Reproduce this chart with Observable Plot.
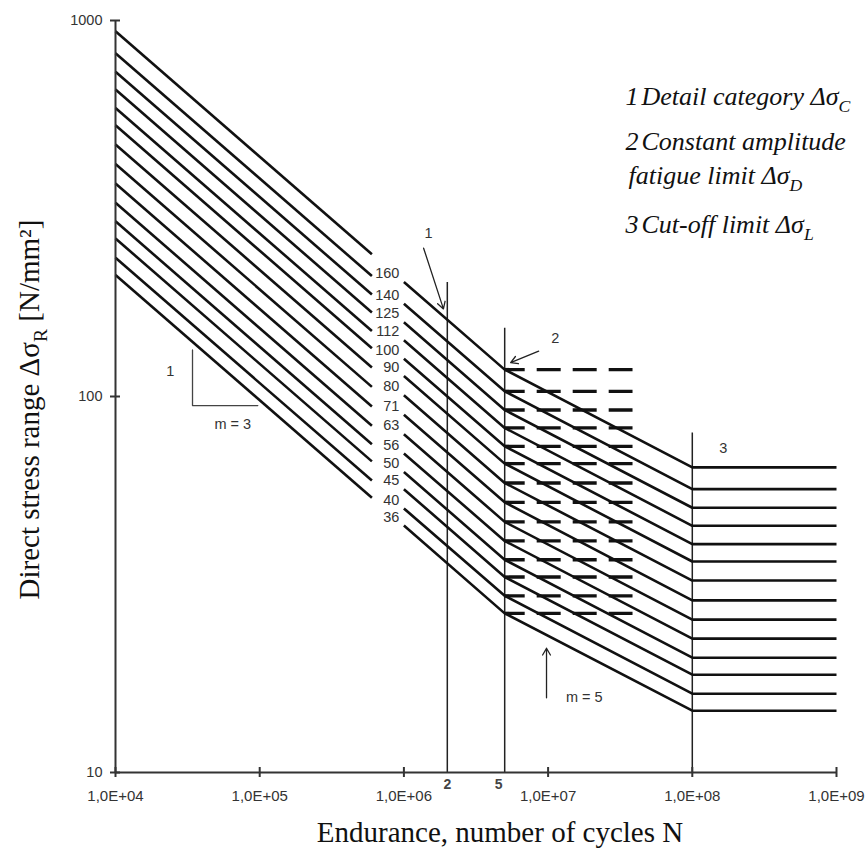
<!DOCTYPE html>
<html>
<head>
<meta charset="utf-8">
<script src="https://cdn.jsdelivr.net/npm/d3@7"></script>
<script src="https://cdn.jsdelivr.net/npm/@observablehq/plot@0.6"></script>
<style>
  html, body { margin: 0; padding: 0; background: #fff; }
  #chart svg { display: block; }
</style>
</head>
<body>
<div id="chart"></div>
<script>
// Detail categories Δσc [N/mm²], reference stress range at N = 2·10^6
const categories = [160, 140, 125, 112, 100, 90, 80, 71, 63, 56, 50, 45, 40, 36];
// Constant amplitude fatigue limit ΔσD at N = 5·10^6
const fatigueLimits = [117.9, 103.2, 92.1, 82.5, 73.7, 66.3, 58.9, 52.3, 46.4, 41.3, 36.8, 33.1, 29.5, 26.5];
// Cut-off limit ΔσL at N = 10^8
const cutOffLimits = [64.8, 56.7, 50.6, 45.3, 40.5, 36.4, 32.4, 28.7, 25.5, 22.7, 20.2, 18.2, 16.2, 14.6];

// Characteristic endurances
const N_C = 2e6, N_D = 5e6, N_L = 1e8;
const N_START = 1e4, N_END = 1e9;
// m = 3 branch is interrupted between these endurances to leave room for the category labels
const GAP_FROM = 6e5, GAP_TO = 1e6;
// Dashed continuation of ΔσD
const DASH_TO = 3.85e7;

const xTicks = [1e4, 1e5, 1e6, 1e7, 1e8, 1e9];
const yTicks = [10, 100, 1000];

// Key in the upper right corner
const legendLines = [
  {num: "1", text: "Detail category Δσ_C"},
  {num: "2", text: "Constant amplitude"},
  {num: "",  text: "fatigue limit Δσ_D"},
  {num: "3", text: "Cut-off limit Δσ_L"}
];
const legendBaselines = [84, 129, 163, 212];

// Stress range on the m = 3 branch through (N_C, Δσc)
const slope3 = (c, N) => c * Math.cbrt(N_C / N);

// Polylines of every S-N curve
const curveRows = [];
const dashRows = [];
categories.forEach((c, i) => {
  const D = fatigueLimits[i], L = cutOffLimits[i];
  curveRows.push(
    {cat: c, part: "a", N: N_START, S: slope3(c, N_START)},
    {cat: c, part: "a", N: GAP_FROM, S: slope3(c, GAP_FROM)},
    {cat: c, part: "b", N: GAP_TO, S: slope3(c, GAP_TO)},
    {cat: c, part: "b", N: N_D, S: D},
    {cat: c, part: "b", N: N_L, S: L},
    {cat: c, part: "b", N: N_END, S: L}
  );
  dashRows.push({cat: c, N: N_D, S: D}, {cat: c, N: DASH_TO, S: D});
});

// Vertical reference lines at the characteristic endurances
const refLines = [
  {N: N_C, top: 201},
  {N: N_D, top: 152},
  {N: N_L, top: 80}
];

// Annotation callouts
const arrows = [
  {x1: 1.37e6, y1: 248, x2: 1.88e6, y2: 171},
  {x1: 8.6e6, y1: 132, x2: 5.5e6, y2: 123},
  {x1: 9.75e6, y1: 15.8, x2: 9.75e6, y2: 21.4}
];
const callouts = [
  {N: 1.48e6, S: 272, label: "1"},
  {N: 1.12e7, S: 143, label: "2"},
  {N: 1.64e8, S: 73, label: "3"},
  {N: 2.4e4, S: 117, label: "1"},
  {N: 6.5e4, S: 84.5, label: "m = 3"},
  {N: 1.78e7, S: 15.8, label: "m = 5"}
];
const slopeTriangle = [
  {N: 3.42e4, S: 133},
  {N: 3.42e4, S: 94.6},
  {N: 9.7e4, S: 94.6}
];

const sans = "'Liberation Sans', Arial, sans-serif";
const serif = "'Liberation Serif', 'Times New Roman', serif";
const ink = "#111";
const grey = "#333";

const legendMarks = legendLines.flatMap((d, i) => [
  Plot.text([d.num], {
    frameAnchor: "top-left", dx: 510, dy: legendBaselines[i],
    lineAnchor: "bottom", textAnchor: "start",
    fontFamily: serif, fontStyle: "italic", fontSize: 26, fill: "#111"
  }),
  Plot.text([d.text], {
    frameAnchor: "top-left", dx: d.num ? 526 : 513, dy: legendBaselines[i],
    lineAnchor: "bottom", textAnchor: "start",
    fontFamily: serif, fontStyle: "italic", fontSize: 26, fill: "#111"
  })
]);

const chart = Plot.plot({
  width: 867,
  height: 849,
  marginLeft: 115,
  marginRight: 31,
  marginTop: 20,
  marginBottom: 77,
  style: {fontFamily: sans, background: "#fff", color: grey},
  x: {type: "log", domain: [N_START, N_END]},
  y: {type: "log", domain: [10, 1000]},
  marks: [
    // characteristic endurance verticals
    Plot.ruleX(refLines, {x: "N", y1: 10, y2: "top", stroke: "#222", strokeWidth: 1.5}),
    // dashed ΔσD continuation
    Plot.line(dashRows, {
      x: "N", y: "S", z: "cat", stroke: ink, strokeWidth: 3.4,
      strokeDasharray: "24,12", strokeDashoffset: 4, strokeLinecap: "butt"
    }),
    // S-N curves
    Plot.line(curveRows, {
      x: "N", y: "S", z: d => d.cat + d.part, stroke: ink, strokeWidth: 2.6,
      strokeLinecap: "butt", strokeLinejoin: "miter"
    }),
    // category labels in the gap of the m = 3 branch
    Plot.text(categories, {
      x: 9.3e5, y: c => slope3(c, 7.8e5), text: c => String(c),
      textAnchor: "end", dy: 5, fontSize: 14.5, fill: grey
    }),
    // axes
    Plot.ruleX([N_START], {stroke: "#333", strokeWidth: 2}),
    Plot.ruleY([10], {stroke: "#333", strokeWidth: 2}),
    Plot.axisX(xTicks, {
      tickSize: 10, dy: -5, tickPadding: 13, fontSize: 15, strokeWidth: 2,
      tickFormat: d => "1,0E+0" + Math.round(Math.log10(d)), label: null
    }),
    Plot.axisY(yTicks, {
      tickSize: 10, dx: 5, tickPadding: 8, fontSize: 14.5, strokeWidth: 2,
      tickFormat: d3.format("d"), label: null
    }),
    // endurance marks 2·10^6 and 5·10^6 under the axis
    Plot.text([N_C], {x: d => d, y: 10, text: () => "2", dy: 12, fontSize: 14, fontWeight: "bold", fill: "#444"}),
    Plot.text([N_D], {x: d => d, y: 10, text: () => "5", dy: 12, dx: -6, fontSize: 14, fontWeight: "bold", fill: "#444"}),
    // slope triangle and callouts
    Plot.line(slopeTriangle, {x: "N", y: "S", stroke: "#444", strokeWidth: 1.3}),
    Plot.arrow(arrows, {
      x1: "x1", y1: "y1", x2: "x2", y2: "y2", stroke: "#222",
      strokeWidth: 1.3, headLength: 9
    }),
    Plot.text(callouts, {x: "N", y: "S", text: "label", fontSize: 14.5, fill: grey}),
    // key
    ...legendMarks,
    // axis titles
    Plot.text(["Endurance, number of cycles N"], {
      frameAnchor: "bottom", dx: 24, dy: 69, lineAnchor: "bottom", textAnchor: "middle",
      fontFamily: serif, fontSize: 29, fill: "#111"
    }),
    Plot.text(["Direct stress range Δσ_R [N/mm²]"], {
      frameAnchor: "left", dx: -86, dy: 13, rotate: -90, lineAnchor: "middle", textAnchor: "middle",
      fontFamily: serif, fontSize: 29, fill: "#111"
    })
  ]
});

document.getElementById("chart").appendChild(chart);

// Turn "_X" into a lowered, smaller subscript character
d3.select(chart).selectAll("text").each(function () {
  const s = this.textContent;
  if (!s.includes("_")) return;
  const size = parseFloat(getComputedStyle(this).fontSize) || 16;
  const shift = size * 0.28;
  const parts = s.split(/_(\S)/);
  const el = d3.select(this);
  el.text(null);
  let lowered = false;
  parts.forEach((p, k) => {
    if (k % 2 === 1) {
      el.append("tspan").attr("dy", shift).style("font-size", (size * 0.68) + "px").text(p);
      lowered = true;
    } else if (p) {
      const t = el.append("tspan").text(p);
      if (lowered) { t.attr("dy", -shift); lowered = false; }
    }
  });
});
</script>
</body>
</html>
